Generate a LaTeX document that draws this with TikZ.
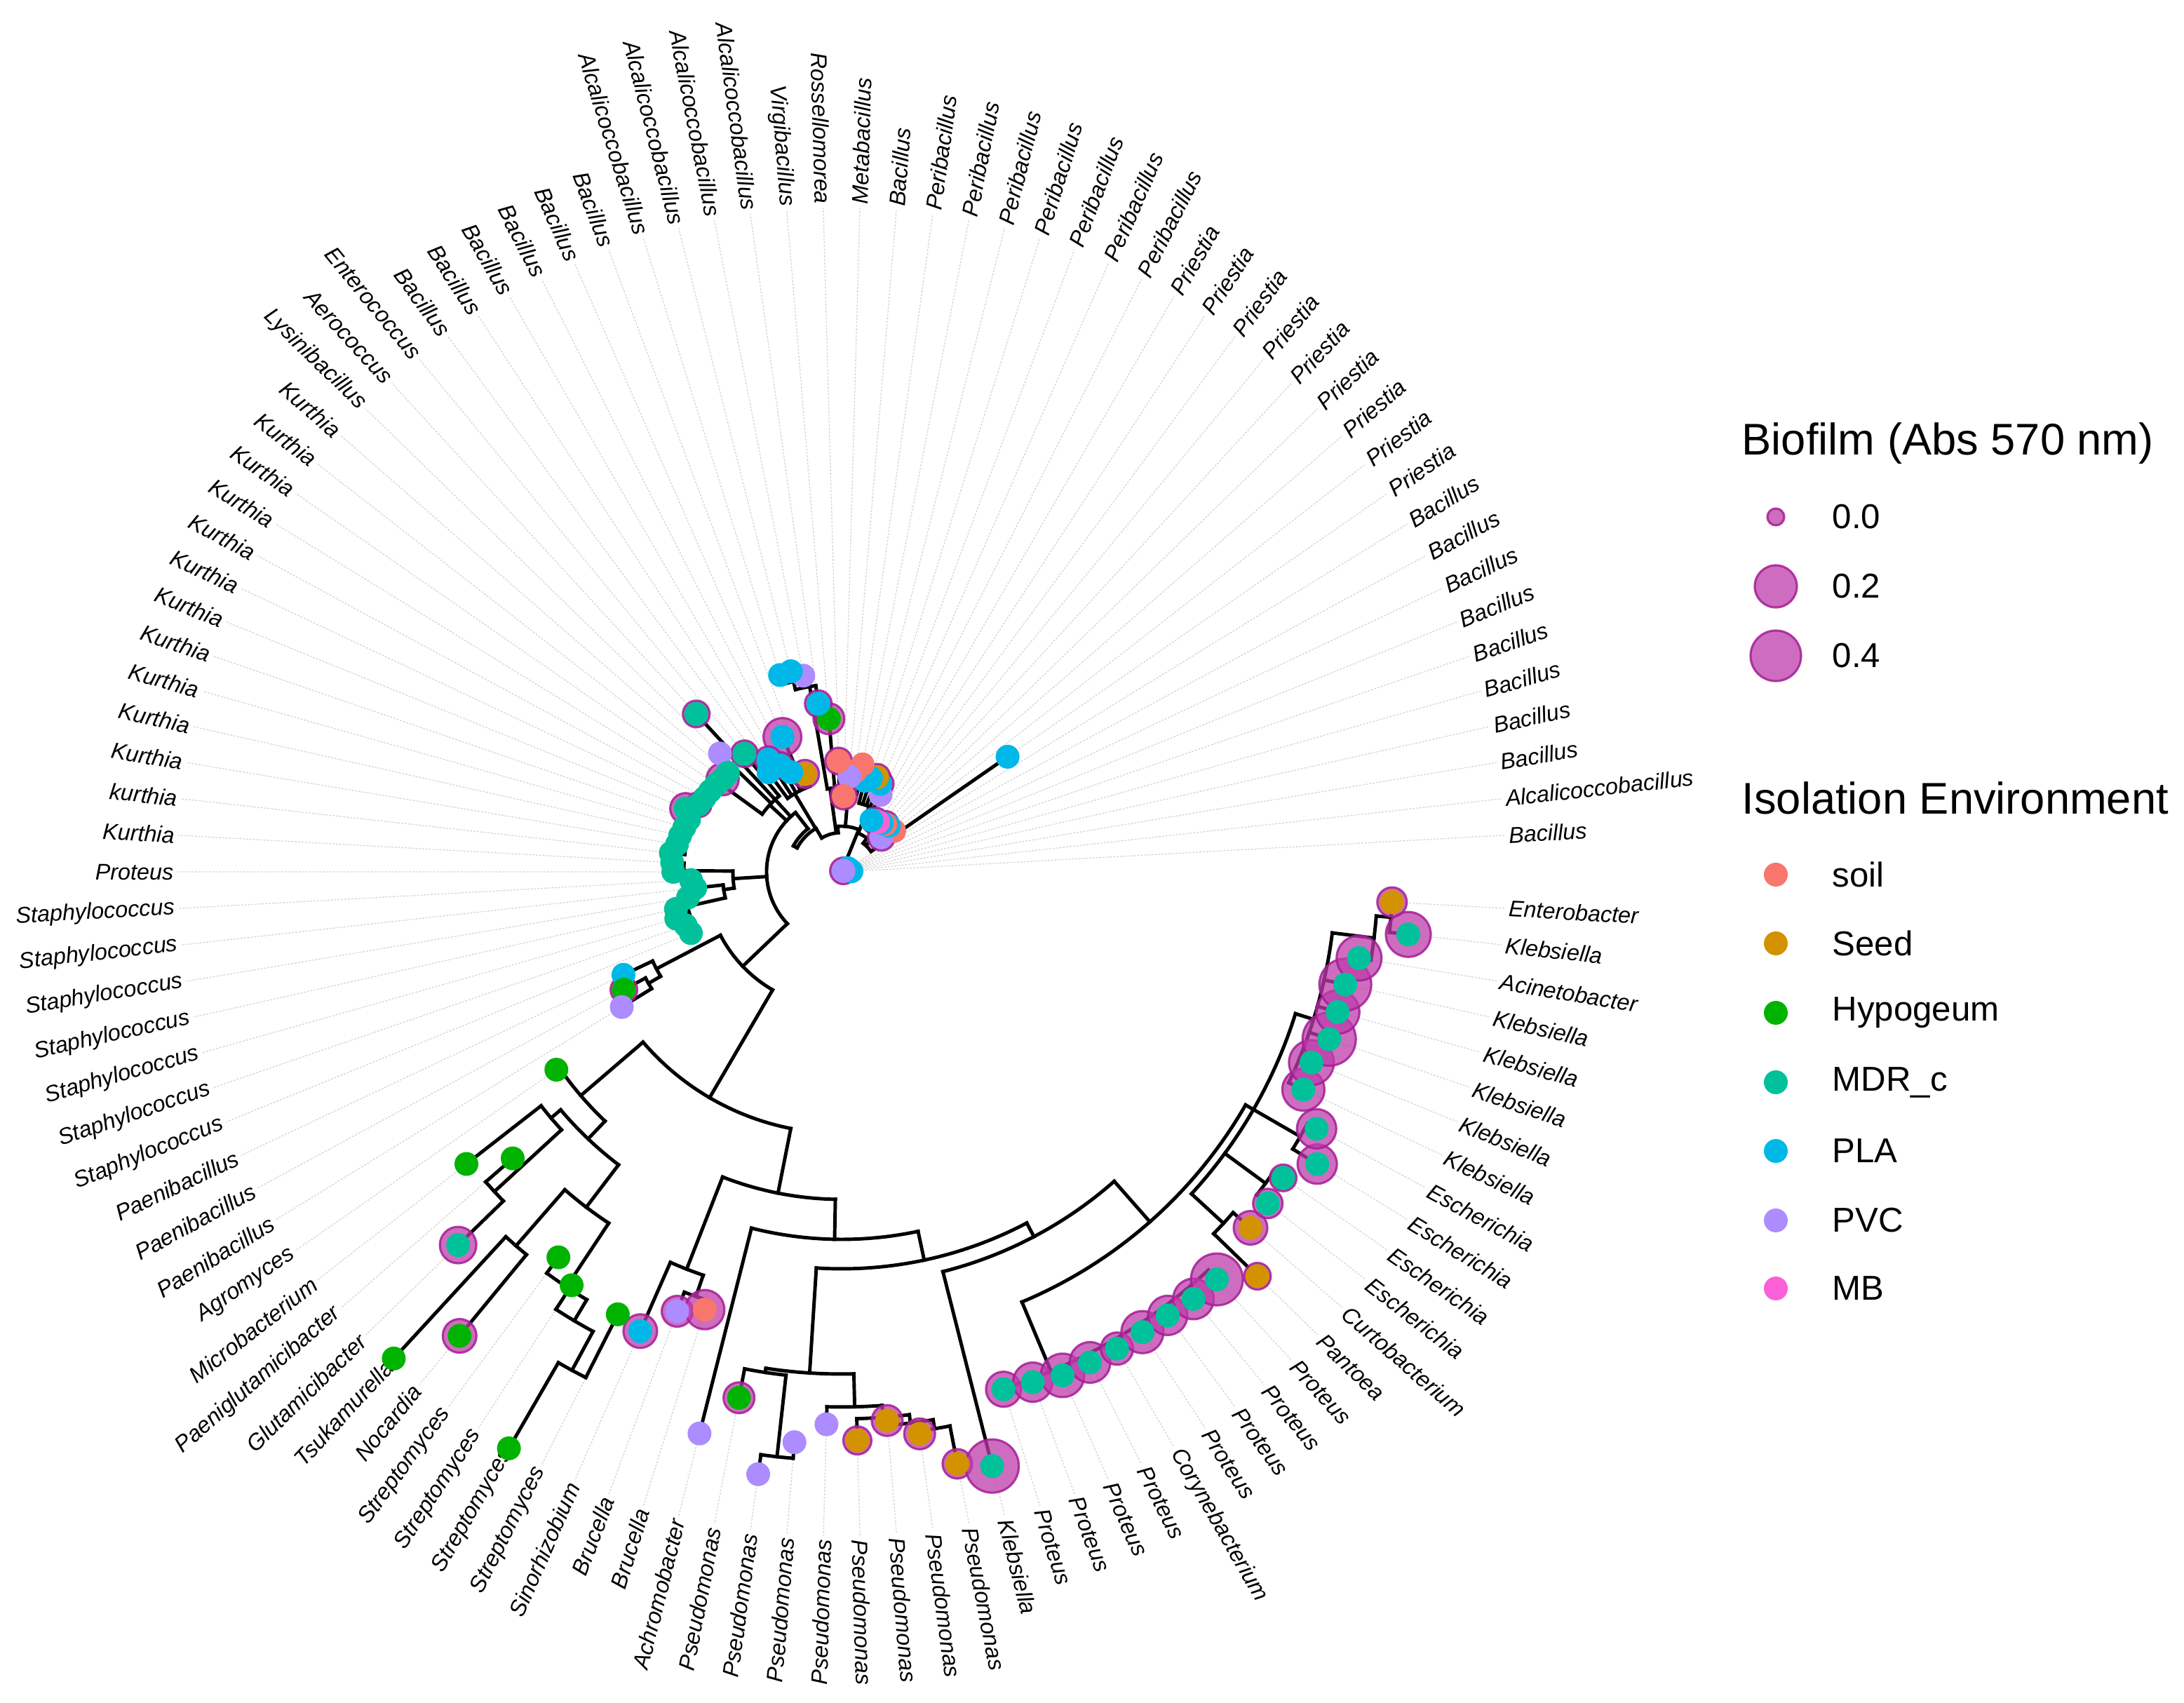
\documentclass[tikz,border=0pt]{standalone}
\usepackage{fontspec}
\setmainfont{Liberation Sans}
\begin{document}
\definecolor{csoil}{HTML}{F8766D}
\definecolor{cSeed}{HTML}{D39200}
\definecolor{cHyp}{HTML}{00B300}
\definecolor{cMDR}{HTML}{00C19A}
\definecolor{cPLA}{HTML}{00B8E7}
\definecolor{cPVC}{HTML}{AC8CFF}
\definecolor{cMB}{HTML}{FB61D7}
\definecolor{bffill}{RGB}{190,60,170}
\definecolor{bfdraw}{RGB}{165,30,150}
\def\D{3.158}
\newcommand\RD[3]{\draw[br] ({#1*\D}:#2) -- ({#1*\D}:#3);}
\newcommand\AR[3]{\draw[br] ({#2*\D}:#1) arc[start angle={#2*\D}, end angle={#3*\D}, radius=#1];}
\def\tipdata{1/0.14/PLA/0, 2/0.12/PLA/0, 3/0.10/PLA/0, 4/0.12/PLA/0, 5/0.10/PLA/0, 6/0.11/PLA/0, 7/0.09/PLA/0, 8/0.08/PLA/0, 10/0.10/PLA/0, 9/0.03/PVC/0.19,
11/2.88/PLA/0, 12/0.95/soil/0, 13/0.75/PVC/0.19, 14/0.94/PLA/0, 15/0.92/soil/0.19, 16/0.90/PLA/0, 17/0.88/MB/0, 18/0.87/MB/0.19, 19/0.85/PLA/0, 20/1.23/PVC/0, 21/1.37/PLA/0.19, 22/1.44/Seed/0.19, 23/1.40/PLA/0, 24/1.34/PLA/0, 25/1.56/soil/0, 26/1.45/soil/0, 27/1.36/PVC/0, 28/1.08/soil/0.19, 29/1.58/soil/0.19, 30/2.19/Hyp/0.22, 31/2.42/PLA/0.19, 32/2.85/PVC/0, 33/2.95/PLA/0, 34/2.94/PLA/0, 35/1.49/Seed/0.2, 36/2.10/PLA/0.27, 37/1.59/PLA/0, 38/1.75/PLA/0.19, 39/1.91/PLA/0.19, 40/1.76/PLA/0, 41/2.18/MDR/0.19, 42/3.06/MDR/0.19, 43/2.42/PVC/0,
44/2.15/MDR/0, 45/2.15/MDR/0.23, 46/2.18/MDR/0, 47/2.20/MDR/0.12, 48/2.22/MDR/0, 49/2.25/MDR/0.18, 50/2.40/MDR/0.22, 51/2.30/MDR/0, 52/2.33/MDR/0.12, 53/2.36/MDR/0, 54/2.38/MDR/0, 55/2.45/MDR/0.14, 56/2.42/MDR/0.1, 57/2.40/MDR/0, 58/2.15/MDR/0.15, 59/2.10/MDR/0.13, 60/2.22/MDR/0, 61/2.42/MDR/0.15, 62/2.45/MDR/0, 63/2.35/MDR/0.1, 64/2.32/MDR/0,
65/3.44/PLA/0, 66/3.53/Hyp/0.19, 67/3.68/PVC/0, 68/4.95/Hyp/0, 69/6.78/Hyp/0, 70/6.22/Hyp/0, 71/7.63/MDR/0.26, 72/9.43/Hyp/0, 73/8.57/Hyp/0.24, 74/6.82/Hyp/0, 75/7.04/Hyp/0, 76/9.49/Hyp/0, 77/7.07/Hyp/0, 78/7.15/PLA/0.24, 79/6.69/PVC/0.22, 80/6.54/soil/0.28,
81/8.26/PVC/0, 82/7.64/Hyp/0.22, 83/8.67/PVC/0, 84/8.16/PVC/0, 85/7.88/PVC/0, 86/8.11/Seed/0.2, 87/7.85/Seed/0.22, 88/8.09/Seed/0.22, 89/8.60/Seed/0.21, 90/8.74/MDR/0.38,
91/7.73/MDR/0.25, 92/7.77/MDR/0.28, 93/7.84/MDR/0.31, 94/7.84/MDR/0.29, 95/7.85/MDR/0.23, 96/7.84/MDR/0.30, 97/7.85/MDR/0.28, 98/7.89/MDR/0.29, 99/7.90/MDR/0.37,
100/8.27/Seed/0.19, 101/7.73/Seed/0.24, 102/7.70/MDR/0.21, 103/7.66/MDR/0.19, 104/7.96/MDR/0.28, 105/7.70/MDR/0.28, 106/7.28/MDR/0.30, 107/7.23/MDR/0.32, 108/7.35/MDR/0.38, 109/7.35/MDR/0.31, 110/7.36/MDR/0.37, 111/7.48/MDR/0.32, 112/8.13/MDR/0.32, 113/7.86/Seed/0.21}
\def\labdata{1/Bacillus, 2/Alcalicoccobacillus, 3/Bacillus, 4/Bacillus, 5/Bacillus, 6/Bacillus, 7/Bacillus, 8/Bacillus, 9/Bacillus, 10/Bacillus,
11/Priestia, 12/Priestia, 13/Priestia, 14/Priestia, 15/Priestia, 16/Priestia, 17/Priestia, 18/Priestia, 19/Priestia,
20/Peribacillus, 21/Peribacillus, 22/Peribacillus, 23/Peribacillus, 24/Peribacillus, 25/Peribacillus, 26/Peribacillus,
27/Bacillus, 28/Metabacillus, 29/Rossellomorea, 30/Virgibacillus, 31/Alcalicoccobacillus, 32/Alcalicoccobacillus, 33/Alcalicoccobacillus, 34/Alcalicoccobacillus,
35/Bacillus, 36/Bacillus, 37/Bacillus, 38/Bacillus, 39/Bacillus, 40/Bacillus, 41/Enterococcus, 42/Aerococcus, 43/Lysinibacillus,
44/Kurthia, 45/Kurthia, 46/Kurthia, 47/Kurthia, 48/Kurthia, 49/Kurthia, 50/Kurthia, 51/Kurthia, 52/Kurthia, 53/Kurthia, 54/Kurthia, 55/kurthia, 56/Kurthia, 57/Proteus,
58/Staphylococcus, 59/Staphylococcus, 60/Staphylococcus, 61/Staphylococcus, 62/Staphylococcus, 63/Staphylococcus, 64/Staphylococcus,
65/Paenibacillus, 66/Paenibacillus, 67/Paenibacillus, 68/Agromyces, 69/Microbacterium, 70/Paeniglutamicibacter, 71/Glutamicibacter, 72/Tsukamurella, 73/Nocardia,
74/Streptomyces, 75/Streptomyces, 76/Streptomyces, 77/Streptomyces, 78/Sinorhizobium, 79/Brucella, 80/Brucella, 81/Achromobacter,
82/Pseudomonas, 83/Pseudomonas, 84/Pseudomonas, 85/Pseudomonas, 86/Pseudomonas, 87/Pseudomonas, 88/Pseudomonas, 89/Pseudomonas,
90/Klebsiella, 91/Proteus, 92/Proteus, 93/Proteus, 94/Proteus, 95/Corynebacterium, 96/Proteus, 97/Proteus, 98/Proteus, 99/Proteus,
100/Pantoea, 101/Curtobacterium, 102/Escherichia, 103/Escherichia, 104/Escherichia, 105/Escherichia,
106/Klebsiella, 107/Klebsiella, 108/Klebsiella, 109/Klebsiella, 110/Klebsiella, 111/Acinetobacter, 112/Klebsiella, 113/Enterobacter}
\begin{tikzpicture}[
  br/.style={line width=1.4pt, line cap=rect, black},
  lead/.style={gray!35, line width=0.35pt, dash pattern=on 0.8pt off 0.6pt},
  dot/.style={circle, inner sep=0pt, minimum size=0.34cm, draw=none},
  bf/.style={fill=bffill, fill opacity=0.75, draw=bfdraw, draw opacity=0.85, line width=0.9pt},
  lab/.style={font=\fontsize{9.2}{10}\selectfont\itshape, inner sep=0pt},
  legtitle/.style={font=\fontsize{18}{20}\selectfont, anchor=west, inner sep=0pt},
  legtext/.style={font=\fontsize{14}{16}\selectfont, anchor=west, inner sep=0pt}
]
\useasboundingbox (-12.00,-11.85) rectangle (19.14,12.43);
% leader lines
\foreach \k/\r/\c/\b in \tipdata { \draw[lead] ({\k*\D}:\r) -- ({\k*\D}:9.47); }
% labels
\foreach \k/\n in \labdata {
  \pgfmathsetmacro\a{\k*\D}
  \pgfmathtruncatemacro\flip{and(\a>90,\a<270)}
  \ifnum\flip=1
    \node[lab, anchor=east, rotate=\a-180] (l\k) at (\a:9.52) {\n};
  \else
    \node[lab, anchor=west, rotate=\a] (l\k) at (\a:9.52) {\n};
  \fi
}
% ===== tree =====
% root (three children)
\AR{1.07}{40.5}{70.83}
% --- upper-left group
\RD{42}{1.07}{3.06}
\RD{43.4}{1.07}{1.40}
\AR{1.40}{41}{45.6}
\RD{41}{1.40}{2.18}
\RD{43}{1.40}{2.42}
\RD{45.6}{1.40}{2.25}
\AR{2.25}{44}{55}
\foreach \k/\r in {44/2.15,45/2.15,46/2.18,47/2.20,48/2.22,49/2.25,50/2.40,51/2.30,52/2.33,53/2.36,54/2.38,55/2.45} {\RD{\k}{2.25}{\r}}
% --- middle-left group
\RD{58.14}{1.07}{1.55}
\AR{1.55}{56.87}{59.72}
\RD{56.87}{1.55}{2.25}
\AR{2.25}{56}{58}
\foreach \k/\r in {56/2.42,57/2.40,58/2.15} {\RD{\k}{2.25}{\r}}
\RD{59.72}{1.55}{1.70}
\AR{1.70}{59}{61}
\RD{59}{1.70}{2.10}
\RD{61}{1.70}{2.25}
\AR{2.25}{60}{64}
\foreach \k/\r in {60/2.22,61/2.42,62/2.45,63/2.35,64/2.32} {\RD{\k}{2.25}{\r}}
% --- inner zig-zag chain (negative branches) to the top group
\RD{40.5}{1.07}{0.78}
\AR{0.78}{40.5}{48.04}
\RD{48.04}{0.78}{0.72}
\AR{0.72}{48.04}{38.16}
\RD{38.16}{0.72}{0.56}
\AR{0.56}{38.16}{30.08}
\RD{30.08}{0.56}{0.65}
\AR{0.65}{30.08}{21.22}
\RD{21.22}{0.65}{0.60}
\AR{0.60}{21.22}{16.78}
\RD{16.78}{0.60}{0.51}
\AR{0.51}{16.78}{11}
\RD{11}{0.51}{2.88}
\RD{21.5}{0.60}{0.06}
% blue cluster 35-40
\RD{38.3}{0.72}{1.30}
\AR{1.30}{35}{40}
\foreach \k/\r in {35/1.49,36/2.10,37/1.59,38/1.75,39/1.91,40/1.76} {\RD{\k}{1.30}{\r}}
% group 29-34
\RD{31}{0.56}{1.20}
\AR{1.20}{29}{31.6}
\RD{29}{1.20}{1.58}
\RD{30}{1.20}{2.19}
\RD{31.6}{1.20}{2.68}
\AR{2.68}{31}{33}
\RD{31}{2.68}{2.42}
\RD{33}{2.68}{2.80}
\AR{2.80}{32}{34}
\foreach \k/\r in {32/2.85,33/2.95,34/2.94} {\RD{\k}{2.80}{\r}}
% group 25-28
\RD{27}{0.65}{1.13}
\AR{1.13}{25}{28}
\foreach \k/\r in {25/1.56,26/1.45,27/1.36,28/1.08} {\RD{\k}{1.13}{\r}}
% group 19-24
\RD{21.22}{0.65}{1.01}
\AR{1.01}{19}{24}
\foreach \k/\r in {19/0.85,20/1.23,21/1.37,22/1.44,23/1.40,24/1.34} {\RD{\k}{1.01}{\r}}
% group 12-18
\RD{15}{0.51}{0.70}
\AR{0.70}{12}{18}
\foreach \k/\r in {12/0.95,13/0.75,14/0.94,15/0.92,16/0.90,17/0.88,18/0.87} {\RD{\k}{0.70}{\r}}
% --- P1 (lower half)
\RD{70.83}{1.07}{1.95}
\AR{1.95}{65.75}{75.9}
\RD{65.75}{1.95}{2.98}
\AR{2.98}{65}{66.5}
\RD{65}{2.98}{3.44}
\RD{66.5}{2.98}{3.18}
\AR{3.18}{66}{67}
\RD{66}{3.18}{3.53}
\RD{67}{3.18}{3.68}
% A
\RD{75.9}{1.95}{3.73}
\AR{3.73}{69.86}{81.95}
\RD{69.86}{3.73}{4.90}
\AR{4.90}{68}{71.72}
\RD{68}{4.90}{4.95}
\RD{71.72}{4.90}{5.25}
\AR{5.25}{69.75}{73.69}
\RD{69.75}{5.25}{5.43}
\AR{5.43}{69}{70.5}
\RD{69}{5.43}{6.78}
\RD{70.5}{5.43}{6.73}
\AR{6.73}{70}{71}
\RD{70}{6.73}{6.22}
\RD{71}{6.73}{7.63}
\RD{73.69}{5.25}{6.01}
\AR{6.01}{72.5}{74.875}
\RD{72.5}{6.01}{7.07}
\AR{7.07}{72}{73}
\RD{72}{7.07}{9.43}
\RD{73}{7.07}{8.57}
\RD{74.875}{6.01}{7.10}
\AR{7.10}{74}{75.75}
\RD{74}{7.10}{6.82}
\RD{75.75}{7.10}{7.45}
\AR{7.45}{75}{76.5}
\RD{75}{7.45}{7.04}
\RD{76.5}{7.45}{8.08}
\AR{8.08}{76}{77}
\RD{76}{8.08}{9.49}
\RD{77}{8.08}{7.07}
% B
\RD{81.95}{3.73}{4.67}
\AR{4.67}{78.75}{85.15}
\RD{78.75}{4.67}{6.08}
\AR{6.08}{78}{79.5}
\RD{78}{6.08}{7.15}
\RD{79.5}{6.08}{6.40}
\AR{6.40}{79}{80}
\RD{79}{6.40}{6.69}
\RD{80}{6.40}{6.54}
\RD{85.15}{4.67}{5.24}
\AR{5.24}{81}{89.3}
\RD{81}{5.24}{8.26}
\RD{89.3}{5.24}{5.66}
\AR{5.66}{84.34}{94.3}
% G (Pseudomonas)
\RD{84.34}{5.66}{7.16}
\AR{7.16}{82.75}{85.94}
\RD{82.75}{7.16}{7.22}
\AR{7.22}{82}{83.5}
\RD{82}{7.22}{7.64}
\RD{83.5}{7.22}{8.39}
\AR{8.39}{83}{84}
\RD{83}{8.39}{8.67}
\RD{84}{8.39}{8.16}
\RD{85.94}{7.16}{7.63}
\AR{7.63}{85}{86.875}
\RD{85}{7.63}{7.88}
\RD{86.875}{7.63}{7.80}
\AR{7.80}{86}{87.75}
\RD{86}{7.80}{8.11}
\RD{87.75}{7.80}{7.92}
\AR{7.92}{87}{88.5}
\RD{87}{7.92}{7.85}
\RD{88.5}{7.92}{8.05}
\AR{8.05}{88}{89}
\RD{88}{8.05}{8.09}
\RD{89}{8.05}{8.60}
% F2
\RD{94.3}{5.66}{5.88}
\AR{5.88}{90}{98.6}
\RD{90}{5.88}{8.74}
\RD{98.6}{5.88}{6.65}
\AR{6.65}{92.7}{104.5}
\RD{92.7}{6.65}{7.72}
\AR{7.72}{91}{99}
\foreach \k/\r in {91/7.73,92/7.77,93/7.84,94/7.84,95/7.85,96/7.84,97/7.85,98/7.89,99/7.90} {\RD{\k}{7.72}{\r}}
\RD{104.5}{6.65}{6.78}
\AR{6.78}{100.5}{108.5}
\RD{100.5}{6.78}{7.40}
\AR{7.40}{100}{101}
\RD{100}{7.40}{8.27}
\RD{101}{7.40}{7.73}
\RD{102.5}{6.78}{7.50}
\AR{7.50}{102}{103}
\RD{102}{7.50}{7.70}
\RD{103}{7.50}{7.66}
\RD{104.5}{6.78}{7.55}
\AR{7.55}{104}{105}
\RD{104}{7.55}{7.96}
\RD{105}{7.55}{7.70}
\RD{108.5}{6.78}{7.05}
\AR{7.05}{106}{111.75}
\foreach \k/\r in {106/7.28,107/7.23,108/7.35,109/7.35,110/7.36} {\RD{\k}{7.05}{\r}}
\RD{111.75}{7.05}{7.65}
\AR{7.65}{111}{112.5}
\RD{111}{7.65}{7.48}
\RD{112.5}{7.65}{7.86}
\AR{7.86}{112}{113}
\RD{112}{7.86}{8.13}
% biofilm circles
\foreach \k/\r/\c/\b in \tipdata { \ifdim\b pt>0pt \path[bf] ({\k*\D}:\r) circle (\b); \fi }
% tip points
\foreach \k/\r/\c/\b in \tipdata { \node[dot, fill=c\c] (t\k) at ({\k*\D}:\r) {}; }
% ===== legend =====
\node[legtitle] (bt) at (12.83,6.11) {Biofilm (Abs 570 nm)};
\path[bf] (13.32,5.06) circle (0.12); \node[legtext] (b0) at (14.12,5.06) {0.0};
\path[bf] (13.32,4.07) circle (0.30); \node[legtext] (b2) at (14.12,4.07) {0.2};
\path[bf] (13.32,3.08) circle (0.36); \node[legtext] (b4) at (14.12,3.08) {0.4};
\node[legtitle] (et) at (12.83,1.05) {Isolation Environment};
\foreach \c/\t/\y/\nm in {soil/soil/-0.04/e1, Seed/Seed/-1.02/e2, Hyp/Hypogeum/-2.01/e3, MDR/MDR\_c/-3.00/e4, PLA/PLA/-3.98/e5, PVC/PVC/-4.97/e6, MB/MB/-5.94/e7} {
  \node[dot, fill=c\c] (\nm d) at (13.32,\y) {};
  \node[legtext] (\nm) at (14.12,\y) {\t};
}
\end{tikzpicture}
\end{document}
